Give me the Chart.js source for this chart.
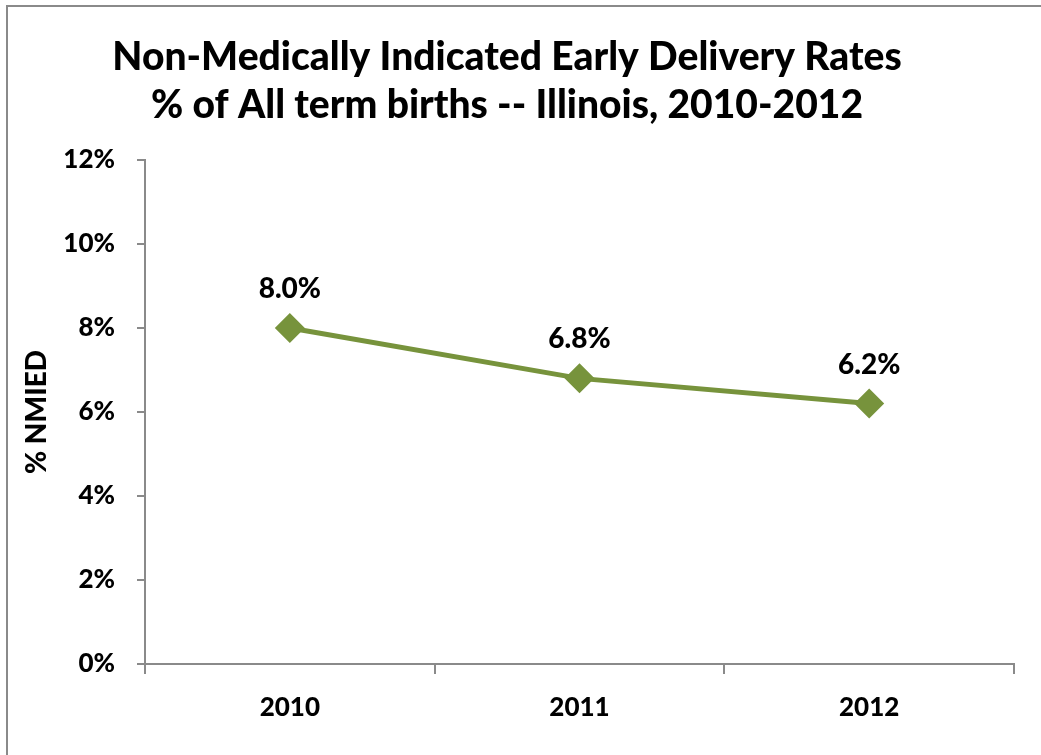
<!DOCTYPE html>
<html>
<head>
<meta charset="utf-8">
<script src="https://cdn.jsdelivr.net/npm/chart.js@4"></script>
<style>
  html, body { margin:0; padding:0; background:#fff; overflow:hidden; }
  #wrap { position:relative; width:1041px; height:755px; }
  #frame {
    position:absolute; left:6px; top:5px; right:-10px; bottom:-10px;
    border-left:2px solid #8a8a8a; border-top:2px solid #8a8a8a;
    pointer-events:none;
  }
</style>
</head>
<body>
<div id="wrap">
  <canvas id="chart" width="1041" height="755"></canvas>
  <div id="frame"></div>
</div>
<script>
// ================= DATOS =================
const years = ["2010", "2011", "2012"];
const nmiedRates = [8.0, 6.8, 6.2];
const yTicks = [0, 2, 4, 6, 8, 10, 12];

const titleLines = [
  "Non-Medically Indicated Early Delivery Rates",
  "% of All term births -- Illinois, 2010-2012"
];

const FONT = "Lato, 'Open Sans', 'DejaVu Sans', sans-serif";
const WEIGHT = "900";
const GREEN = "#77933c";
const AXIS = "#8a8a8a";

// ================= ETIQUETAS DE DATOS =================
const pointLabels = {
  id: "pointLabels",
  afterDatasetsDraw(chart){
    const ctx = chart.ctx;
    const meta = chart.getDatasetMeta(0);
    ctx.save();
    ctx.font = WEIGHT + " 28px " + FONT;
    ctx.fillStyle = "#000";
    ctx.textAlign = "center";
    ctx.textBaseline = "middle";
    meta.data.forEach((pt, i) => {
      ctx.fillText(nmiedRates[i].toFixed(1) + "%", pt.x, pt.y - 39);
    });
    ctx.restore();
  }
};

// ================= GRAFICA =================
new Chart(document.getElementById("chart").getContext("2d"), {
  type: "line",
  data: {
    labels: years,
    datasets: [{
      data: nmiedRates,
      borderColor: GREEN,
      backgroundColor: GREEN,
      borderWidth: 5,
      pointStyle: "rectRot",
      pointRadius: 15,
      pointHoverRadius: 15,
      pointBackgroundColor: GREEN,
      pointBorderColor: GREEN,
      pointBorderWidth: 0,
      tension: 0
    }]
  },
  options: {
    responsive: false,
    animation: false,
    layout: { padding: { left: 0, right: 27, top: 0, bottom: 0 } },
    plugins: {
      legend: { display: false },
      tooltip: { enabled: false },
      title: {
        display: true,
        text: titleLines,
        color: "#000",
        font: { family: FONT, size: 39, weight: WEIGHT, lineHeight: 1.23 },
        padding: { top: 33, bottom: 31 }
      }
    },
    scales: {
      x: {
        offset: true,
        border: { display: true, color: AXIS, width: 2 },
        grid: { display: true, offset: true, drawOnChartArea: false, drawTicks: true, tickLength: 10, color: AXIS, lineWidth: 2 },
        ticks: { color: "#000", font: { family: FONT, size: 26, weight: WEIGHT }, padding: 18 },
        afterFit(scale){ scale.height = 91; }
      },
      y: {
        min: 0,
        max: 12,
        afterBuildTicks(scale){ scale.ticks = yTicks.map(v => ({ value: v })); },
        border: { display: true, color: AXIS, width: 2 },
        grid: { display: true, drawOnChartArea: false, drawTicks: true, tickLength: 8, color: AXIS, lineWidth: 2 },
        ticks: {
          color: "#000",
          font: { family: FONT, size: 26, weight: WEIGHT },
          padding: 22,
          callback: v => v + "%"
        },
        title: {
          display: true,
          text: "% NMIED",
          color: "#000",
          font: { family: FONT, size: 28, weight: WEIGHT },
          padding: { top: 20, bottom: 0 }
        },
        afterFit(scale){ scale.width = 145; }
      }
    }
  },
  plugins: [pointLabels]
});
</script>
</body>
</html>
